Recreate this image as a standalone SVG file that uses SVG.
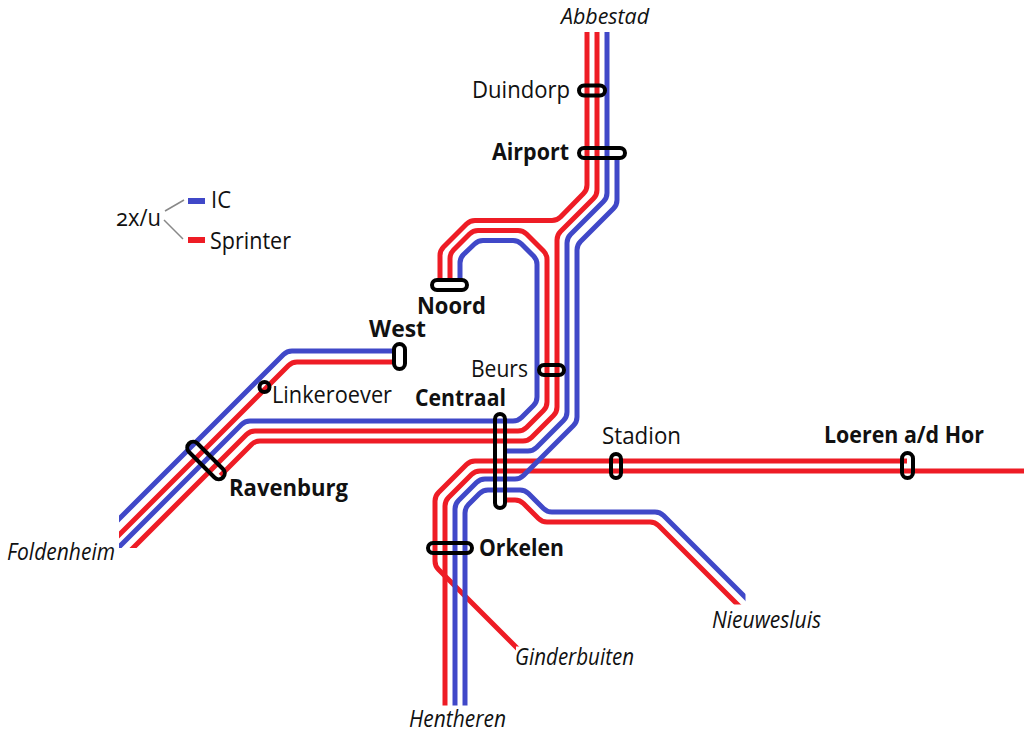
<svg xmlns="http://www.w3.org/2000/svg" width="1024" height="735" viewBox="0 0 1024 735">
<style>
.l{fill:none;stroke-width:5;stroke-linejoin:round}
.r{stroke:#ee1c25}
.b{stroke:#4048c8}
.s{fill:none;stroke:#000;stroke-width:4}
text{font-family:"Open Sans","Noto Sans",sans-serif;font-size:24px;fill:#111}
.k{font-weight:700}
.i{font-style:italic}
.g{fill:none;stroke:#888;stroke-width:1.5}
.n{font-variant-numeric:oldstyle-nums}
</style>
<defs><clipPath id="c"><polygon points="119,0 1024,0 1024,540 745.5,540 745.5,604.5 600,604.5 600,646.500 516,646.500 516,705.5 300,705.5 300,548 119,548"/></clipPath></defs>
<g id="connectors" clip-path="url(#c)">
<path class="l r" d="M587 32V185Q587 190 583.5 193.5L560.5 217Q557 220.5 552 220.5H475Q470 220.5 466.5 224L443.5 247Q440 250.5 440 255.5V281"/>
<path class="l r" d="M597 32V190Q597 195 593.5 198.5L560.5 231.5Q557 235 557 240V407Q557 412 553.5 415.5L531.5 437.5Q528 441 523 441H260Q255 441 251.5 444.5L220.5 475.5"/>
<path class="l r" d="M450 281V258.5Q450 253.5 453.5 250L469.5 234Q473 230.5 478 230.5H518Q523 230.5 526.5 234L543.5 251Q547 254.5 547 259.5V402Q547 407 543.5 410.5L526.5 427.5Q523 431 518 431H255Q250 431 246.5 434.5L100 581"/>
<path class="l r" d="M396 362H297Q292 362 288.5 365.5L100 554"/>
<path class="l r" d="M503 500H515Q520 500 523.5 503.5L538.5 518.5Q542 522 547 522H650Q655 522 658.5 525.5L745 612"/>
<path class="l r" d="M907 461H475Q470 461 466.5 464.5L438.5 492.5Q435 496 435 501V561Q435 566 438.5 569.5L521 652"/>
<path class="l r" d="M1024 471H480Q475 471 471.5 474.5L448.5 497.5Q445 501 445 506V706"/>
<path class="l b" d="M460 281V263Q460 258 463.5 254.5L474.5 244Q478 240.5 483 240.5H513Q518 240.5 521.5 244L533.5 256Q537 259.5 537 264.5V397Q537 402 533.5 405.5L521.5 417.5Q518 421 513 421H250Q245 421 241.5 424.5L100 566"/>
<path class="l b" d="M396 351H292Q287 351 283.5 354.5L100 538"/>
<path class="l b" d="M607 32V193Q607 198 603.5 201.5L570.5 234.5Q567 238 567 243V412Q567 417 563.5 420.5L536.5 447.5Q533 451 528 451H503"/>
<path class="l b" d="M617 156V200Q617 205 613.5 208.5L580.5 241.5Q577 245 577 250V417Q577 422 573.5 425.5L523.5 475.5Q520 479 515 479H485Q480 479 476.5 482.5L458.5 500.5Q455 504 455 509V706"/>
<path class="l b" d="M750 602L663.5 515.5Q660 512 655 512H552Q547 512 543.5 508.5L528.5 493.5Q525 490 520 490H488Q483 490 479.5 493.5L468.5 504.5Q465 508 465 513V706"/>
</g>
<g id="abbestad"><text class="i" x="561" y="23.500" style="font-size:22px" textLength="88" lengthAdjust="spacingAndGlyphs">Abbestad</text></g>
<g id="duindorp"><rect class="s" x="579" y="85.500" width="26" height="10" rx="5"/><text x="472" y="98" textLength="98" lengthAdjust="spacingAndGlyphs">Duindorp</text></g>
<g id="airport"><rect class="s" x="579" y="148" width="46" height="10" rx="5"/><text class="k" x="492" y="160" textLength="77" lengthAdjust="spacingAndGlyphs">Airport</text></g>
<g id="noord"><rect class="s" x="432" y="280" width="35" height="10" rx="5"/><text class="k" x="417" y="314" textLength="69" lengthAdjust="spacingAndGlyphs">Noord</text></g>
<g id="west"><rect class="s" x="394" y="344" width="11" height="25" rx="5.5"/><text class="k" x="369" y="337" textLength="57" lengthAdjust="spacingAndGlyphs">West</text></g>
<g id="linkeroever"><circle class="s" cx="264.500" cy="387" r="5"/><text x="272" y="403" textLength="120" lengthAdjust="spacingAndGlyphs">Linkeroever</text></g>
<g id="beurs"><rect class="s" x="539" y="365" width="25" height="10" rx="5"/><text x="471" y="377" textLength="57" lengthAdjust="spacingAndGlyphs">Beurs</text></g>
<g id="centraal"><rect class="s" x="495" y="414" width="10" height="94" rx="5"/><text class="k" x="415" y="406" textLength="91" lengthAdjust="spacingAndGlyphs">Centraal</text></g>
<g id="ravenburg"><rect class="s" x="-6" y="-24" width="12" height="48" rx="6" transform="translate(206 460.500) rotate(-45)"/><text class="k" x="229" y="496" textLength="119" lengthAdjust="spacingAndGlyphs">Ravenburg</text></g>
<g id="stadion"><rect class="s" x="611" y="454" width="10" height="24" rx="5"/><text x="602" y="444" textLength="79" lengthAdjust="spacingAndGlyphs">Stadion</text></g>
<g id="loeren"><rect class="s" x="902" y="453" width="11" height="25" rx="5.500"/><text class="k" x="824" y="443" textLength="160" lengthAdjust="spacingAndGlyphs">Loeren a/d Hor</text></g>
<g id="orkelen"><rect class="s" x="428" y="543" width="44" height="10" rx="5"/><text class="k" x="479" y="556" textLength="85" lengthAdjust="spacingAndGlyphs">Orkelen</text></g>
<g id="foldenheim"><text class="i" x="7" y="560" textLength="108" lengthAdjust="spacingAndGlyphs">Foldenheim</text></g>
<g id="nieuwesluis"><text class="i" x="712" y="628" textLength="109" lengthAdjust="spacingAndGlyphs">Nieuwesluis</text></g>
<g id="ginderbuiten"><text class="i" x="515" y="665" textLength="119" lengthAdjust="spacingAndGlyphs">Ginderbuiten</text></g>
<g id="hentheren"><text class="i" x="409" y="727" textLength="97" lengthAdjust="spacingAndGlyphs">Hentheren</text></g>
<g id="legend">
<path class="g" d="M165 211L184 200M164 220L183 239"/>
<rect x="188" y="198" width="17" height="6" fill="#4048c8"/>
<rect x="188" y="237" width="17" height="6" fill="#ee1c25"/>
<text class="n" x="116" y="226" textLength="45" lengthAdjust="spacingAndGlyphs">2x/u</text>
<text x="211" y="208" textLength="20" lengthAdjust="spacingAndGlyphs">IC</text>
<text x="210" y="249" textLength="81" lengthAdjust="spacingAndGlyphs">Sprinter</text>
</g>
</svg>
